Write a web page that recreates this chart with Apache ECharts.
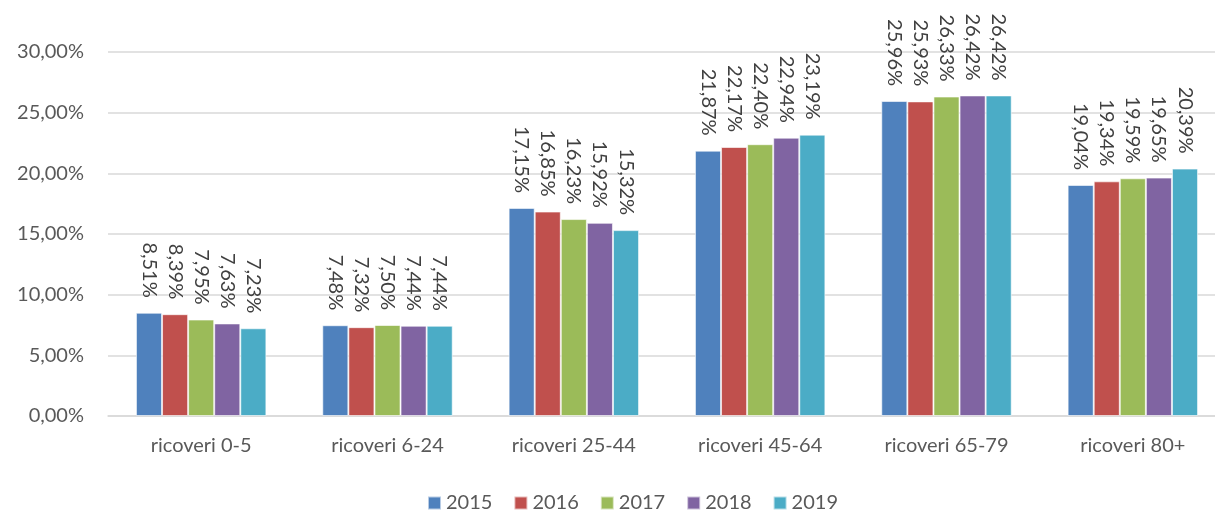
<!DOCTYPE html>
<html>
<head>
<meta charset="utf-8">
<script src="https://cdn.jsdelivr.net/npm/echarts@6/dist/echarts.min.js"></script>
<style>
    html, body { margin: 0; padding: 0; background: #fff; overflow: hidden; }
    #container { width: 1226px; height: 512px; }
</style>
</head>
<body>
<div id="container"></div>
<script>
    // categorie e valori (percentuali)
    var categories = ['ricoveri 0-5', 'ricoveri 6-24', 'ricoveri 25-44', 'ricoveri 45-64', 'ricoveri 65-79', 'ricoveri 80+'];
    var years = ['2015', '2016', '2017', '2018', '2019'];
    var colors = ['#4F81BD', '#C0504D', '#9BBB59', '#8064A2', '#4BACC6'];
    var v2015 = [8.51, 7.48, 17.15, 21.87, 25.96, 19.04];
    var v2016 = [8.39, 7.32, 16.85, 22.17, 25.93, 19.34];
    var v2017 = [7.95, 7.50, 16.23, 22.40, 26.33, 19.59];
    var v2018 = [7.63, 7.44, 15.92, 22.94, 26.42, 19.65];
    var v2019 = [7.23, 7.44, 15.32, 23.19, 26.42, 20.39];
    var values = [v2015, v2016, v2017, v2018, v2019];

    function pct(v) {
        return v.toFixed(2).replace('.', ',') + '%';
    }

    var series = [];
    for (var i = 0; i < years.length; i++) {
        series.push({
            name: years[i],
            type: 'bar',
            data: values[i],
            barGap: 0,
            barCategoryGap: '30%',
            itemStyle: { color: colors[i], borderColor: 'rgba(255,255,255,0.6)', borderWidth: 1 },
            label: {
                show: true,
                position: 'top',
                rotate: -90,
                align: 'right',
                verticalAlign: 'middle',
                distance: 15,
                fontFamily: 'Lato',
                fontSize: 20,
                color: '#404040',
                formatter: function (p) { return pct(p.value); }
            }
        });
    }

    var option = {
        animation: false,
        textStyle: { fontFamily: 'Lato' },
        grid: { left: 108, top: 52, right: 0, height: 364, containLabel: false },
        legend: {
            data: years,
            top: 488,
            left: 422,
            itemWidth: 13,
            itemHeight: 13,
            itemGap: 21,
            icon: 'rect',
            textStyle: { fontFamily: 'Lato', fontSize: 20, color: '#595959' }
        },
        xAxis: {
            type: 'category',
            data: categories,
            axisTick: { show: false },
            axisLine: { lineStyle: { color: '#d9d9d9', width: 1.5 } },
            axisLabel: { fontFamily: 'Lato', fontSize: 20, color: '#595959', margin: 20 }
        },
        yAxis: {
            type: 'value',
            min: 0,
            max: 30,
            interval: 5,
            axisLine: { show: false },
            axisTick: { show: false },
            splitLine: { lineStyle: { color: '#d9d9d9', width: 1.5 } },
            axisLabel: {
                fontFamily: 'Lato', fontSize: 20, color: '#595959', margin: 24,
                formatter: function (v) { return pct(v); }
            }
        },
        series: series
    };
    echarts.init(document.getElementById('container')).setOption(option);
</script>
</body>
</html>
